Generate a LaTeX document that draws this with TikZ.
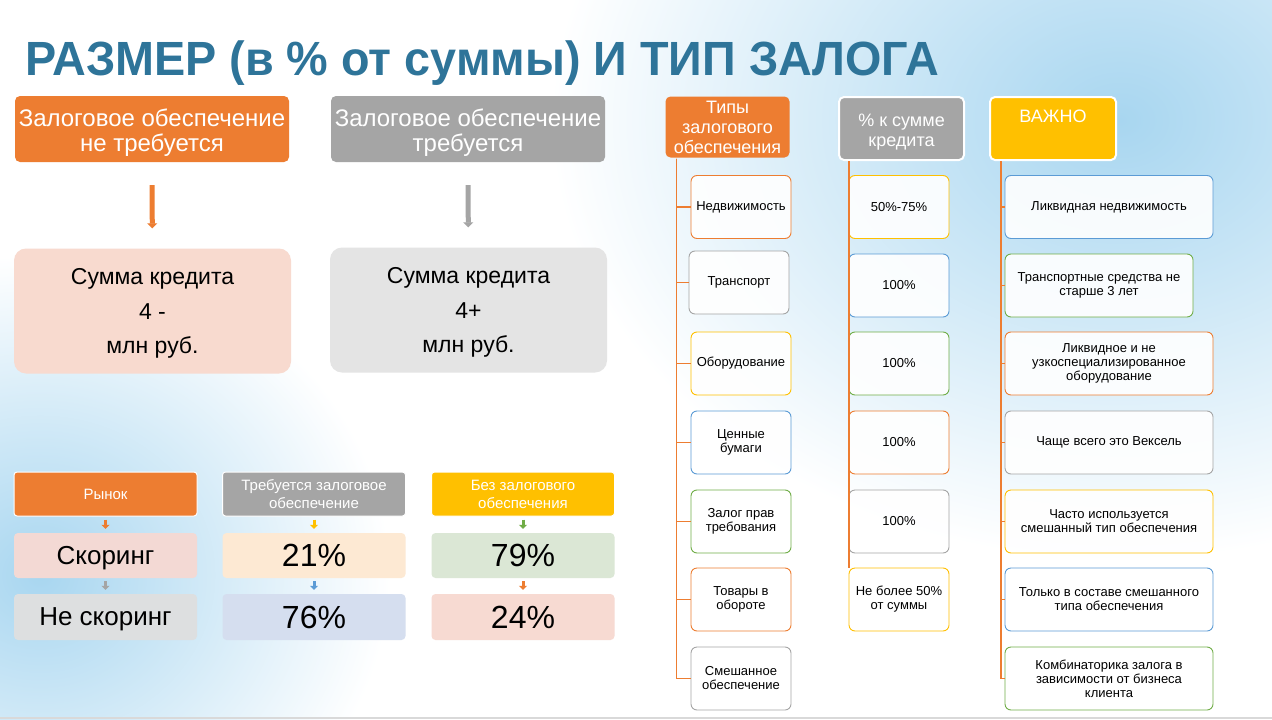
\documentclass[tikz,border=0pt]{standalone}
\usepackage{fontspec}
\usepackage{graphicx}
\setmainfont{Liberation Sans}
\usetikzlibrary{arrows.meta}
\definecolor{corange}{HTML}{ED7D31}
\definecolor{cgrey}{HTML}{A5A5A5}
\definecolor{cyellow}{HTML}{FFC000}
\definecolor{cblue}{HTML}{5B9BD5}
\definecolor{cgreen}{HTML}{70AD47}
\definecolor{titleblue}{HTML}{2E7499}
\definecolor{bgblue}{HTML}{A8D6F0}
\definecolor{pinkA}{HTML}{F8DACF}
\definecolor{greyA}{HTML}{E4E4E4}
\definecolor{tpink}{HTML}{F3D9D4}
\definecolor{tpeach}{HTML}{FDE9D3}
\definecolor{tgreen}{HTML}{DBE7D5}
\definecolor{tgrey}{HTML}{DDDFE0}
\definecolor{tblue}{HTML}{D5DEEF}
\definecolor{tpink2}{HTML}{F7DAD2}
\begin{document}
\begin{tikzpicture}[x=1pt,y=-1pt,
  topbox/.style={minimum width=274pt,minimum height=66pt,rounded corners=5pt,text=white,
    font=\fontsize{24}{25}\selectfont,align=center,inner sep=0pt},
  sumbox/.style={minimum width=277pt,minimum height=125pt,rounded corners=12pt,
    font=\fontsize{23}{34.5}\selectfont,align=center,inner sep=0pt},
  bigarrow/.style={draw=#1,line width=5pt,-{Triangle[width=10pt,length=5pt]},
    shorten <=23pt,shorten >=20pt},
  thead/.style={minimum width=183pt,minimum height=44pt,rounded corners=3pt,draw=white,line width=1pt,
    text=white,font=\fontsize{15}{18}\selectfont,align=center,inner sep=0pt},
  tcell/.style={minimum width=183pt,minimum height=45pt,rounded corners=4pt,inner sep=0pt},
  word/.style={font=\fontsize{26}{28}\selectfont,text depth=0pt},
  pct/.style={font=\fontsize{32}{34}\selectfont},
  sarrow/.style={draw=#1,line width=3pt,-{Triangle[width=8pt,length=4pt]},
    shorten <=3pt,shorten >=4pt},
  rhead/.style={rounded corners=5pt,draw=white,line width=2pt,text=white,
    font=\fontsize{18}{20}\selectfont,align=center,inner sep=0pt},
  item/.style={draw=#1,rounded corners=6pt,fill=white,fill opacity=0.9,text opacity=1,
    line width=0.9pt,minimum width=100pt,minimum height=63pt,align=center,
    font=\fontsize{13}{14}\selectfont,inner sep=2pt},
  ritem/.style={item=#1,minimum width=208pt},
  tree/.style={draw=corange,line width=1.6pt}
]
\useasboundingbox (0,0) rectangle (1272,720);
\fill[white] (0,0) rectangle (1272,720);
% background glows
\shade[inner color=bgblue,outer color=white] (1120,120) ellipse [x radius=570,y radius=440];
\shade[inner color=bgblue,outer color=white] (40,575) ellipse [x radius=350,y radius=320];
\draw[black!15,line width=1.5pt] (0,718) -- (1272,718);

% title
\node[anchor=base west,inner sep=0pt,text=titleblue,font=\fontsize{48}{48}\selectfont\bfseries]
  (title) at (25,75) {\scalebox{0.974}[1]{РАЗМЕР (в \% от суммы) И ТИП ЗАЛОГА}};

% top-left blocks
\node[topbox,fill=corange] (nr) at (152,129) {\rule{0pt}{25pt}Залоговое обеспечение\\не требуется};
\node[topbox,fill=cgrey] (rq) at (468,129) {\rule{0pt}{25pt}Залоговое обеспечение\\требуется};
\node[sumbox,fill=pinkA] (s1) at (152.5,311) {\rule{0pt}{21pt}Сумма кредита\\4 -\\млн руб.};
\node[sumbox,fill=greyA] (s2) at (468.5,310) {\rule{0pt}{21pt}Сумма кредита\\4+\\млн руб.};
\draw[bigarrow=corange] (nr) -- (s1);
\draw[bigarrow=cgrey] (rq) -- (s2);

% bottom-left table
\node[thead,fill=corange] (h1) at (105.5,494) {Рынок};
\node[thead,fill=cgrey] (h2) at (314,494) {Требуется залоговое\\обеспечение};
\node[thead,fill=cyellow] (h3) at (523,494) {Без залогового\\обеспечения};
\node[tcell,fill=tpink,word] (a1) at (105.5,555.5) {Скоринг};
\node[tcell,fill=tpeach,pct] (a2) at (314,555.5) {21\%};
\node[tcell,fill=tgreen,pct] (a3) at (523,555.5) {79\%};
\node[tcell,fill=tgrey,word,minimum height=46pt] (b1) at (105.5,617) {Не скоринг};
\node[tcell,fill=tblue,pct,minimum height=46pt] (b2) at (314,617) {76\%};
\node[tcell,fill=tpink2,pct,minimum height=46pt] (b3) at (523,617) {24\%};
\draw[sarrow=corange] (h1) -- (a1);
\draw[sarrow=cyellow] (h2) -- (a2);
\draw[sarrow=cgreen] (h3) -- (a3);
\draw[sarrow=cgrey] (a1) -- (b1);
\draw[sarrow=cblue] (a2) -- (b2);
\draw[sarrow=corange] (a3) -- (b3);

% right: headers
\node[rhead,fill=corange,minimum width=124pt,minimum height=61pt,draw=none] (types) at (727.5,127) {Типы\\залогового\\обеспечения};
\node[rhead,fill=cgrey,minimum width=125pt,minimum height=63pt] (pcth) at (901.5,128.5) {\rule{0pt}{19pt}\% к сумме\\кредита};
\node[rhead,fill=cyellow,minimum width=126pt,minimum height=63pt,text depth=24pt] (imp) at (1053,128.5) {ВАЖНО};

% left column
\node[item=corange] (t1) at (741,207) {Недвижимость};
\node[item=cgrey] (t2) at (739,282.5) {Транспорт};
\node[item=cyellow] (t3) at (741,363.5) {Оборудование};
\node[item=cblue] (t4) at (741,442.5) {Ценные\\бумаги};
\node[item=cgreen] (t5) at (741,521.5) {Залог прав\\требования};
\node[item=corange] (t6) at (741,599.5) {Товары в\\обороте};
\node[item=cgrey] (t7) at (741,678.5) {Смешанное\\обеспечение};
\foreach \i in {1,...,7} \draw[tree] ([xshift=12pt]types.south west) |- (t\i.west);

% middle column
\node[item=cyellow] (m1) at (899,207) {50\%-75\%};
\node[item=cblue] (m2) at (899,285.5) {100\%};
\node[item=cgreen] (m3) at (899,363.5) {100\%};
\node[item=corange] (m4) at (899,442.5) {100\%};
\node[item=cgrey] (m5) at (899,521.5) {100\%};
\node[item=cyellow] (m6) at (899,599.5) {Не более 50\%\\от суммы};
\coordinate (mend) at ([xshift=11pt]pcth.south west |- m6.north);
\draw[tree] ([xshift=11pt]pcth.south west) -- (mend);

% right column
\node[ritem=cblue] (r1) at (1109,207) {Ликвидная недвижимость};
\node[ritem=cgreen,minimum width=188pt] (r2) at (1099,285.5) {Транспортные средства не\\старше 3 лет};
\node[ritem=corange] (r3) at (1109,363.5) {Ликвидное и не\\узкоспециализированное\\оборудование};
\node[ritem=cgrey] (r4) at (1109,442.5) {Чаще всего это Вексель};
\node[ritem=cyellow] (r5) at (1109,521.5) {Часто используется\\смешанный тип обеспечения};
\node[ritem=cblue] (r6) at (1109,599.5) {Только в составе смешанного\\типа обеспечения};
\node[ritem=cgreen] (r7) at (1109,678.5) {Комбинаторика залога в\\зависимости от бизнеса\\клиента};
\foreach \i in {1,...,7} \draw[tree] ([xshift=12pt]imp.south west) |- (r\i.west);
\end{tikzpicture}
\end{document}
